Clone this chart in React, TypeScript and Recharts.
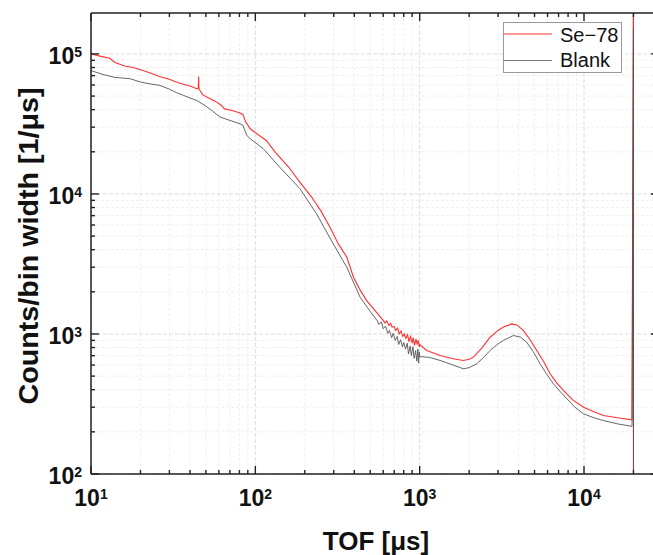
import React from 'react';
import { LineChart, Line, XAxis, YAxis, CartesianGrid, Legend, Label } from 'recharts';

// Se-78 sample
const seTof = [
  10, 11.5, 13, 14, 16, 18, 20, 23, 26, 30, 33, 36, 40, 44, 45, 45.2, 45.4, 48, 52, 57, 62, 65, 72, 80, 84, 87, 93,
  117, 132, 160, 187, 220, 250, 284, 320, 360, 395, 430, 476, 540, 600, 615, 630, 650, 665, 680, 700, 715, 735, 750,
  770, 790, 805, 825, 845, 860, 880, 900, 915, 930, 950, 965, 980, 995, 1000, 1104, 1330, 1600, 1845, 2000, 2122,
  2400, 2683, 3000, 3235, 3634, 3900, 4274, 4700, 5160, 5700, 6220, 6800, 7500, 8500, 9930, 11500, 13100, 16000,
  19600, 20000, 20000,
];
const seCounts = [
  100000, 96000, 93000, 87000, 82000, 80000, 77000, 73000, 69000, 66000, 63000, 61000, 59000, 56500, 57000, 69000,
  56000, 51000, 48500, 46000, 43000, 40500, 39500, 38000, 37000, 33000, 29200,
  24000, 19900, 15500, 12100, 9500, 7600, 5800, 4400, 3540, 2550, 2100, 1730, 1450, 1250, 1200, 1240, 1150, 1190,
  1120, 1130, 1060, 1100, 1000, 1050, 960, 1000, 930, 990, 880, 960, 860, 940, 830, 920, 850, 900, 810, 840, 762,
  702, 665, 647, 660, 683, 800, 948, 1060, 1120, 1180, 1160, 1060, 910, 762, 630, 520, 450, 395, 340, 300, 278,
  262, 252, 244, 500000, 1,
];

// Blank sample
const blankTof = [
  10, 12, 14, 17.3, 20, 23, 26.3, 30, 33, 36.5, 40, 44, 49.4, 55, 61, 70, 80.7, 84, 88.7, 93, 112, 141, 187, 236,
  298, 360, 434, 500, 550, 565, 585, 600, 620, 640, 655, 675, 690, 710, 730, 745, 765, 785, 800, 820, 840, 855, 875,
  890, 910, 925, 945, 960, 975, 985, 995, 1000, 1150, 1330, 1600, 1845, 2000, 2222, 2450, 2683, 3000, 3235, 3720,
  4100, 4480, 4900, 5410, 5900, 6520, 7200, 7860, 8800, 9930, 11500, 13100, 16000, 19600, 20000, 20000,
];
const blankCounts = [
  76000, 71000, 68000, 66500, 63000, 61000, 59600, 56000, 53000, 50600, 48500, 46500, 42800, 39000, 35400, 33500,
  31700, 31000, 26200, 24800, 21000, 15500, 10900, 7200, 4400, 3000, 1830, 1450, 1250, 1170, 1220, 1090, 1140,
  1010, 1060, 940, 1010, 900, 960, 840, 910, 810, 870, 780, 860, 720, 820, 700, 810, 670, 760, 640, 780, 620, 740,
  690, 680, 647, 600, 564, 575, 612, 680, 762, 850, 900, 975, 950, 873, 750, 612, 520, 440, 385, 345, 300, 269,
  252, 241, 228, 219, 150000, 1,
];

const xTicks = [
  10, 20, 30, 40, 50, 60, 70, 80, 90, 100, 200, 300, 400, 500, 600, 700, 800, 900, 1000, 2000, 3000, 4000, 5000,
  6000, 7000, 8000, 9000, 10000, 20000,
];
const yTicks = [
  100, 200, 300, 400, 500, 600, 700, 800, 900, 1000, 2000, 3000, 4000, 5000, 6000, 7000, 8000, 9000, 10000, 20000,
  30000, 40000, 50000, 60000, 70000, 80000, 90000, 100000,
];
const xDecades = [10, 100, 1000, 10000];
const yDecades = [100, 1000, 10000, 100000];

const seColor = '#ff3030';
const blankColor = '#555555';
const font = '"Liberation Sans", Arial, sans-serif';

const seData = seTof.map((t, i) => ({ tof: t, counts: seCounts[i] }));
const blankData = blankTof.map((t, i) => ({ tof: t, counts: blankCounts[i] }));

const isDecade = (v: number) => Math.abs(Math.log10(v) - Math.round(Math.log10(v))) < 1e-9;

const Pow = ({ x, y, v, anchor }: any) => (
  <text x={x} y={y} textAnchor={anchor} fontFamily={font} fontWeight="bold" fontSize={23} fill="#111">
    10
    <tspan dy={-7} fontSize={14}>
      {Math.round(Math.log10(v))}
    </tspan>
  </text>
);

const BottomTick = (props: any) => {
  const { x, y, payload } = props;
  const major = isDecade(payload.value);
  return (
    <g>
      <line x1={x} x2={x} y1={y} y2={y - (major ? 8 : 4)} stroke="#222" strokeWidth={1.4} />
      {major && <Pow x={x} y={y + 32} v={payload.value} anchor="middle" />}
    </g>
  );
};

const TopTick = (props: any) => {
  const { x, y, payload } = props;
  const major = isDecade(payload.value);
  return <line x1={x} x2={x} y1={y} y2={y + (major ? 8 : 4)} stroke="#222" strokeWidth={1.4} />;
};

const LeftTick = (props: any) => {
  const { x, y, payload } = props;
  const major = isDecade(payload.value);
  return (
    <g>
      <line x1={x} x2={x + (major ? 8 : 4)} y1={y} y2={y} stroke="#222" strokeWidth={1.4} />
      {major && <Pow x={x - 9} y={y + 10} v={payload.value} anchor="end" />}
    </g>
  );
};

const RightTick = (props: any) => {
  const { x, y, payload } = props;
  const major = isDecade(payload.value);
  return <line x1={x} x2={x - (major ? 8 : 4)} y1={y} y2={y} stroke="#222" strokeWidth={1.4} />;
};

const renderLegend = () => (
  <svg width={120} height={52} style={{ display: 'block' }}>
    <rect x={0.5} y={0.5} width={118} height={50} fill="#fff" stroke="#999" />
    <line x1={1} x2={49} y1={12} y2={12} stroke={seColor} strokeWidth={1.2} />
    <text x={57} y={20} fontFamily={font} fontSize={20} fill="#111">
      Se−78
    </text>
    <line x1={1} x2={49} y1={38.5} y2={38.5} stroke="#777" strokeWidth={1} />
    <text x={57} y={45} fontFamily={font} fontSize={20} fill="#111">
      Blank
    </text>
  </svg>
);

const axisLine = { stroke: '#222', strokeWidth: 1.5 };

export default function App() {
  return (
    <div
      style={{
        position: 'fixed',
        left: 0,
        top: 0,
        width: 653,
        height: 555,
        overflow: 'hidden',
        background: '#fff',
      }}
    >
      <LineChart width={670} height={555} margin={{ top: 0, right: 0, bottom: 0, left: 0 }}>
        <CartesianGrid
          stroke="#efefef"
          strokeDasharray="3 2"
          verticalValues={xTicks.filter((v) => !isDecade(v))}
          horizontalValues={yTicks.filter((v) => !isDecade(v))}
        />
        <CartesianGrid stroke="#dcdcdc" strokeDasharray="4 2" verticalValues={xDecades} horizontalValues={yDecades} />
        <XAxis
          dataKey="tof"
          type="number"
          scale="log"
          domain={[10, 28600]}
          allowDataOverflow
          ticks={xTicks}
          interval={0}
          height={81}
          tickSize={0}
          tickMargin={0}
          tickLine={false}
          axisLine={axisLine}
          tick={<BottomTick />}
        >
          <Label
            content={() => (
              <text x={376} y={550} textAnchor="middle" fontFamily={font} fontWeight="bold" fontSize={26} fill="#111">
                TOF [μs]
              </text>
            )}
          />
        </XAxis>
        <XAxis
          xAxisId="top"
          orientation="top"
          dataKey="tof"
          type="number"
          scale="log"
          domain={[10, 28600]}
          allowDataOverflow
          ticks={xTicks}
          interval={0}
          height={13}
          tickSize={0}
          tickMargin={0}
          tickLine={false}
          axisLine={axisLine}
          tick={<TopTick />}
        />
        <YAxis
          type="number"
          scale="log"
          domain={[100, 196000]}
          allowDataOverflow
          ticks={yTicks}
          interval={0}
          width={91}
          tickSize={0}
          tickMargin={0}
          tickLine={false}
          axisLine={axisLine}
          tick={<LeftTick />}
        >
          <Label
            content={() => (
              <text
                transform="translate(38,246) rotate(-90)"
                textAnchor="middle"
                fontFamily={font}
                fontWeight="bold"
                fontSize={28}
                textLength={317}
                lengthAdjust="spacingAndGlyphs"
                fill="#111"
              >
                Counts/bin width [1/μs]
              </text>
            )}
          />
        </YAxis>
        <YAxis
          yAxisId="right"
          orientation="right"
          type="number"
          scale="log"
          domain={[100, 196000]}
          allowDataOverflow
          ticks={yTicks}
          interval={0}
          width={11}
          tickSize={0}
          tickMargin={0}
          tickLine={false}
          axisLine={axisLine}
          tick={<RightTick />}
        />
        <Legend
          layout="horizontal"
          verticalAlign="middle"
          align="center"
          content={renderLegend}
          wrapperStyle={{ left: 503, top: 22, width: 120, height: 52 }}
        />
        <Line
          data={seData}
          dataKey="counts"
          name="Se-78"
          type="linear"
          stroke={seColor}
          strokeWidth={1.1}
          dot={false}
          isAnimationActive={false}
        />
        <Line
          data={blankData}
          dataKey="counts"
          name="Blank"
          type="linear"
          stroke={blankColor}
          strokeWidth={0.9}
          dot={false}
          isAnimationActive={false}
        />
      </LineChart>
    </div>
  );
}
